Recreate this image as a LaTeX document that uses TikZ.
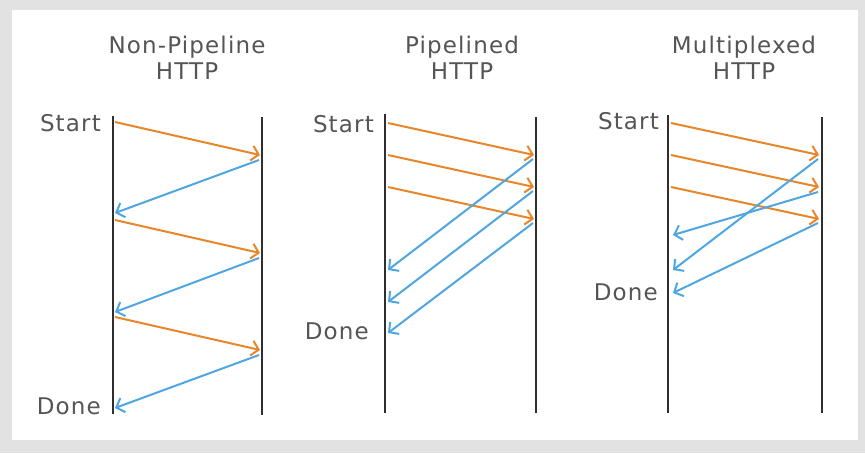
\documentclass[tikz,border=0pt]{standalone}
\usepackage{fontspec}
\usepackage{xcolor}
\usepackage{tikz}
\usetikzlibrary{arrows.meta}
\newfontfamily\handfont[LetterSpace=5]{DejaVu Sans}
\definecolor{frame}{HTML}{E2E2E2}
\definecolor{ink}{HTML}{2F2F2F}
\definecolor{muted}{HTML}{555555}
\definecolor{orange}{HTML}{E8862A}
\definecolor{blue}{HTML}{4FA6E0}
\tikzset{
  life/.style={draw=ink, line width=2.2pt},
  req/.style={draw=orange, line width=2pt, -{Straight Barb[length=7pt,width=15pt]}},
  resp/.style={draw=blue, line width=2pt, -{Straight Barb[length=7pt,width=15pt]}},
  lab/.style={text=muted, inner sep=0pt, font=\handfont\fontsize{23}{26}\selectfont},
  ttl/.style={lab, align=center}
}

\begin{document}
\begin{tikzpicture}[x=1pt, y=-1pt]
  \useasboundingbox (0,0) rectangle (865,453);
  \fill[frame] (0,0) rectangle (865,453);
  \fill[white] (12,10) rectangle (858,440);

  % Non-Pipeline HTTP
  \node[ttl] (np-title) at (187,58) {Non-Pipeline\\HTTP};
  \coordinate (np-c-top) at (113,116); \coordinate (np-c-bot) at (113,414);
  \coordinate (np-s-top) at (262,117); \coordinate (np-s-bot) at (262,415);
  \draw[life] (np-c-top) -- (np-c-bot);
  \draw[life] (np-s-top) -- (np-s-bot);
  \node[lab, anchor=base east] (np-start) at (101,131) {Start};
  \node[lab, anchor=base east] (np-done) at (101,414) {Done};

  \coordinate (np-c1) at (115,122); \coordinate (np-s1) at (260,155);
  \coordinate (np-s2) at (259,160); \coordinate (np-c2) at (115,213);
  \coordinate (np-c3) at (115,220); \coordinate (np-s3) at (260,253);
  \coordinate (np-s4) at (259,258); \coordinate (np-c4) at (115,312);
  \coordinate (np-c5) at (115,317); \coordinate (np-s5) at (260,350);
  \coordinate (np-s6) at (259,355); \coordinate (np-c6) at (115,408);
  \draw[req] (np-c1) -- (np-s1);
  \draw[resp] (np-s2) -- (np-c2);
  \draw[req] (np-c3) -- (np-s3);
  \draw[resp] (np-s4) -- (np-c4);
  \draw[req] (np-c5) -- (np-s5);
  \draw[resp] (np-s6) -- (np-c6);

  % Pipelined HTTP
  \node[ttl] (pl-title) at (462,58) {Pipelined\\HTTP};
  \coordinate (pl-c-top) at (385,114); \coordinate (pl-c-bot) at (385,413);
  \coordinate (pl-s-top) at (536,117); \coordinate (pl-s-bot) at (536,413);
  \draw[life] (pl-c-top) -- (pl-c-bot);
  \draw[life] (pl-s-top) -- (pl-s-bot);
  \node[lab, anchor=base east] (pl-start) at (374,132) {Start};
  \node[lab, anchor=base east] (pl-done) at (369,339) {Done};

  \coordinate (pl-c1) at (388,123); \coordinate (pl-s1) at (534,155);
  \coordinate (pl-c2) at (388,155); \coordinate (pl-s2) at (534,187);
  \coordinate (pl-c3) at (388,187); \coordinate (pl-s3) at (534,219);
  \coordinate (pl-s4) at (533,159); \coordinate (pl-c4) at (388,270);
  \coordinate (pl-s5) at (533,191); \coordinate (pl-c5) at (388,302);
  \coordinate (pl-s6) at (533,223); \coordinate (pl-c6) at (388,333);
  \draw[req] (pl-c1) -- (pl-s1);
  \draw[req] (pl-c2) -- (pl-s2);
  \draw[req] (pl-c3) -- (pl-s3);
  \draw[resp] (pl-s4) -- (pl-c4);
  \draw[resp] (pl-s5) -- (pl-c5);
  \draw[resp] (pl-s6) -- (pl-c6);

  % Multiplexed HTTP
  \node[ttl] (mx-title) at (744,58) {Multiplexed\\HTTP};
  \coordinate (mx-c-top) at (668,115); \coordinate (mx-c-bot) at (668,413);
  \coordinate (mx-s-top) at (822,117); \coordinate (mx-s-bot) at (822,413);
  \draw[life] (mx-c-top) -- (mx-c-bot);
  \draw[life] (mx-s-top) -- (mx-s-bot);
  \node[lab, anchor=base east] (mx-start) at (659,129) {Start};
  \node[lab, anchor=base east] (mx-done) at (658,300) {Done};

  \coordinate (mx-c1) at (671,123); \coordinate (mx-s1) at (819,155);
  \coordinate (mx-c2) at (671,155); \coordinate (mx-s2) at (819,187);
  \coordinate (mx-c3) at (671,187); \coordinate (mx-s3) at (819,219);
  \coordinate (mx-s4) at (818,159); \coordinate (mx-c4) at (673,270);
  \coordinate (mx-s5) at (818,192); \coordinate (mx-c5) at (673,235);
  \coordinate (mx-s6) at (818,223); \coordinate (mx-c6) at (673,293);
  \draw[req] (mx-c1) -- (mx-s1);
  \draw[req] (mx-c2) -- (mx-s2);
  \draw[req] (mx-c3) -- (mx-s3);
  \draw[resp] (mx-s4) -- (mx-c4);
  \draw[resp] (mx-s5) -- (mx-c5);
  \draw[resp] (mx-s6) -- (mx-c6);
\end{tikzpicture}
\end{document}
